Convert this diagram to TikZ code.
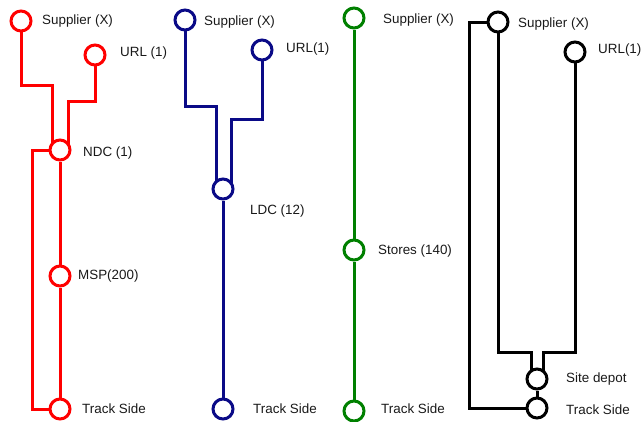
\documentclass[tikz,border=0pt]{standalone}
\usepackage{fontspec}
\setmainfont{Liberation Sans}
\usetikzlibrary{backgrounds}
\definecolor{cred}{RGB}{255,0,0}
\definecolor{cblue}{RGB}{10,10,135}
\definecolor{cgreen}{RGB}{0,128,0}
\begin{document}
\begin{tikzpicture}[x=1pt,y=-1pt,
  stop/.style={circle,draw,line width=3pt,fill=white,minimum size=20pt,inner sep=0pt},
  lbl/.style={anchor=west,inner sep=0pt,font=\fontsize{13.4}{15}\selectfont,text=black!90},
  link/.style={line width=3pt}]
\useasboundingbox (0,0) rectangle (642,421);
% red
\node[stop,draw=cred] (rs) at (21,21) {};
\node[stop,draw=cred] (ru) at (95,55) {};
\node[stop,draw=cred] (ndc) at (60,150) {};
\node[stop,draw=cred] (msp) at (60,276) {};
\node[stop,draw=cred] (rts) at (60,409) {};
\node[lbl] (rsl) at (42,21) {Supplier (X)};
\node[lbl] (rul) at (120,53) {URL (1)};
\node[lbl] (ndcl) at (83,153) {NDC (1)};
\node[lbl] (mspl) at (78,276) {MSP(200)};
\node[lbl] (rtsl) at (82,409) {Track Side};
% blue
\node[stop,draw=cblue] (bs) at (185,20) {};
\node[stop,draw=cblue] (bu) at (262,50) {};
\node[stop,draw=cblue] (ldc) at (223,189) {};
\node[stop,draw=cblue] (bts) at (223,409) {};
\node[lbl] (bsl) at (204,22) {Supplier (X)};
\node[lbl] (bul) at (286,49) {URL(1)};
\node[lbl] (ldcl) at (250,211) {LDC (12)};
\node[lbl] (btsl) at (253,409) {Track Side};
% green
\node[stop,draw=cgreen] (gs) at (354,18) {};
\node[stop,draw=cgreen] (st) at (354,250) {};
\node[stop,draw=cgreen] (gts) at (354,411) {};
\node[lbl] (gsl) at (383,20) {Supplier (X)};
\node[lbl] (stl) at (378,251) {Stores (140)};
\node[lbl] (gtsl) at (381,409) {Track Side};
% black
\node[stop,draw=black] (ks) at (498,22) {};
\node[stop,draw=black] (ku) at (575,52) {};
\node[stop,draw=black] (sd) at (537,379) {};
\node[stop,draw=black] (kts) at (537,408) {};
\node[lbl] (ksl) at (518,24) {Supplier (X)};
\node[lbl] (kul) at (598,50) {URL(1)};
\node[lbl] (sdl) at (566,379) {Site depot};
\node[lbl] (ktsl) at (566,410) {Track Side};
\begin{scope}[on background layer]
  \draw[link,cred] (rs.center) |- (52,85) -- ([xshift=-8pt]ndc.center);
  \draw[link,cred] (ru.center) |- (68,101) -- ([xshift=8pt]ndc.center);
  \draw[link,cred] (ndc.center) -| (32,409) -- (rts.center);
  \draw[link,cred] (ndc) -- (msp);
  \draw[link,cred] (msp) -- (rts);
  \draw[link,cblue] (bs.center) |- (216,106) -- ([xshift=-7pt]ldc.center);
  \draw[link,cblue] (bu.center) |- (231,119) -- ([xshift=8pt]ldc.center);
  \draw[link,cblue] (ldc) -- (bts);
  \draw[link,cgreen] (gs) -- (st);
  \draw[link,cgreen] (st) -- (gts);
  \draw[link,black] (ks.center) -| (469,408) -- (kts.center);
  \draw[link,black] (ks.center) |- (531,352) -- ([xshift=-6pt]sd.center);
  \draw[link,black] (ku.center) |- (543,352) -- ([xshift=6pt]sd.center);
  \draw[link,black] (sd) -- (kts);
\end{scope}
\end{tikzpicture}
\end{document}
